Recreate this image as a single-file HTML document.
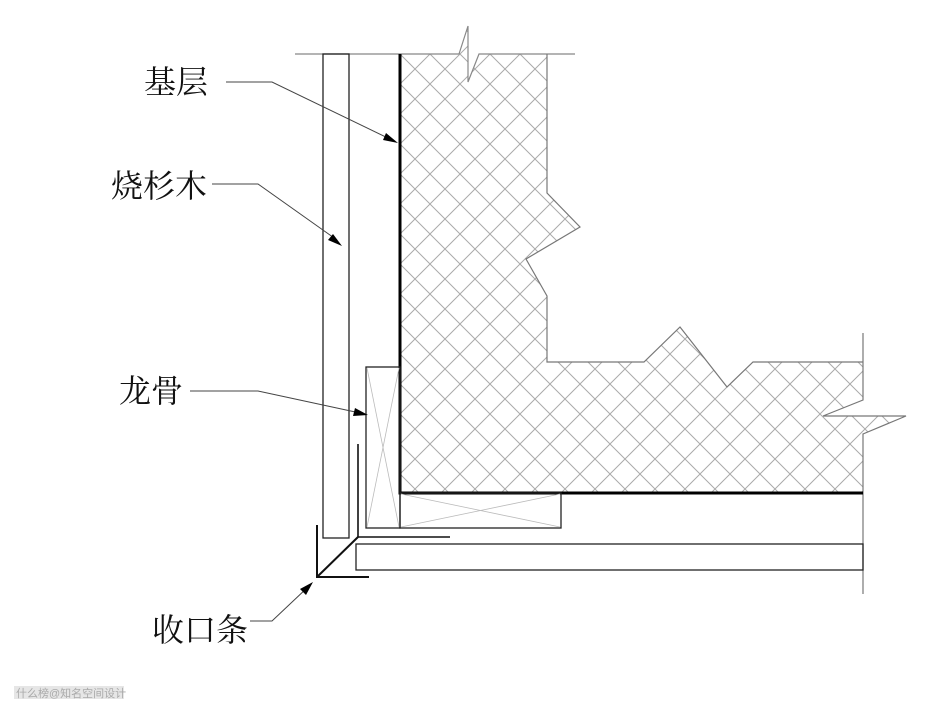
<!DOCTYPE html>
<html><head><meta charset="utf-8"><style>
html,body{margin:0;padding:0;background:#fff;}
svg{display:block;}
text{font-family:"Liberation Serif","Noto Serif CJK SC",serif;fill:#111;}
</style></head><body>
<svg width="930" height="716" viewBox="0 0 930 716" xmlns="http://www.w3.org/2000/svg">
<defs>
<pattern id="h" patternUnits="userSpaceOnUse" width="30" height="30" x="400" y="54">
<path d="M0,0L30,30M30,0L0,30" stroke="#aaa" stroke-width="1" fill="none"/>
</pattern>
</defs>
<rect width="930" height="716" fill="#fff"/>
<polygon points="400,54 459,54 468,26 468,82 479,54 547,54 547,193 580,227 526,259 547,296 547,362 644,362 680,327 727,387 753,362 863,362 863,400 823,416 906,416 863,434 863,493 400,493" fill="url(#h)" stroke="none"/>
<polyline points="295,54 459,54 468,26 468,82 479,54 575,54" fill="none" stroke="#888" stroke-width="1.2"/>
<polyline points="547,54 547,193 580,227 526,259 547,296 547,362 644,362 680,327 727,387 753,362 863,362" fill="none" stroke="#777" stroke-width="1.2"/>
<polyline points="863,333 863,400 823,416 906,416 863,434 863,594" fill="none" stroke="#777" stroke-width="1.2"/>
<polyline points="400,54 400,493 863,493" fill="none" stroke="#000" stroke-width="3"/>
<rect x="323" y="54" width="26" height="484" fill="none" stroke="#222" stroke-width="1.3"/>
<rect x="366" y="367" width="34" height="161" fill="none" stroke="#222" stroke-width="1.3"/>
<path d="M367,368L399,527M399,368L367,527" stroke="#bbb" stroke-width="0.8"/>
<rect x="400" y="493" width="161" height="35" fill="none" stroke="#222" stroke-width="1.3"/>
<path d="M401,494L560,527M560,494L401,527" stroke="#bbb" stroke-width="0.8"/>
<rect x="356" y="544" width="507" height="26" fill="none" stroke="#222" stroke-width="1.3"/>
<polyline points="358,444 358,537 450,537" fill="none" stroke="#111" stroke-width="1.6"/>
<polyline points="317,525 317,577 369,577" fill="none" stroke="#111" stroke-width="2"/>
<line x1="317" y1="577" x2="358" y2="537" stroke="#111" stroke-width="2"/>
<g stroke="#444" stroke-width="1" fill="none">
<polyline points="226,82 272,82 392,140"/>
<polyline points="212,184 258,184 337,240"/>
<polyline points="190,391 258,391 360,413"/>
<polyline points="250,621 272,621 308,587"/>
</g>
<g fill="#000">
<polygon points="398,143 383,140 386,133"/>
<polygon points="342,246 328,240 333,234"/>
<polygon points="368,415 353,416 355,408"/>
<polygon points="313,582 306,595 300,589"/>
</g>
<text x="144" y="93" font-size="32">基层</text>
<text x="111" y="197" font-size="32">烧杉木</text>
<text x="119" y="402" font-size="32">龙骨</text>
<text x="152" y="641" font-size="32">收口条</text>
<rect x="14" y="686" width="110" height="13" fill="#e6e6e6"/>
<text x="16" y="697" font-size="11" style="fill:#aaa;font-family:'Liberation Sans','Noto Sans CJK SC',sans-serif">什么榜@知名空间设计</text>
</svg>
</body></html>
